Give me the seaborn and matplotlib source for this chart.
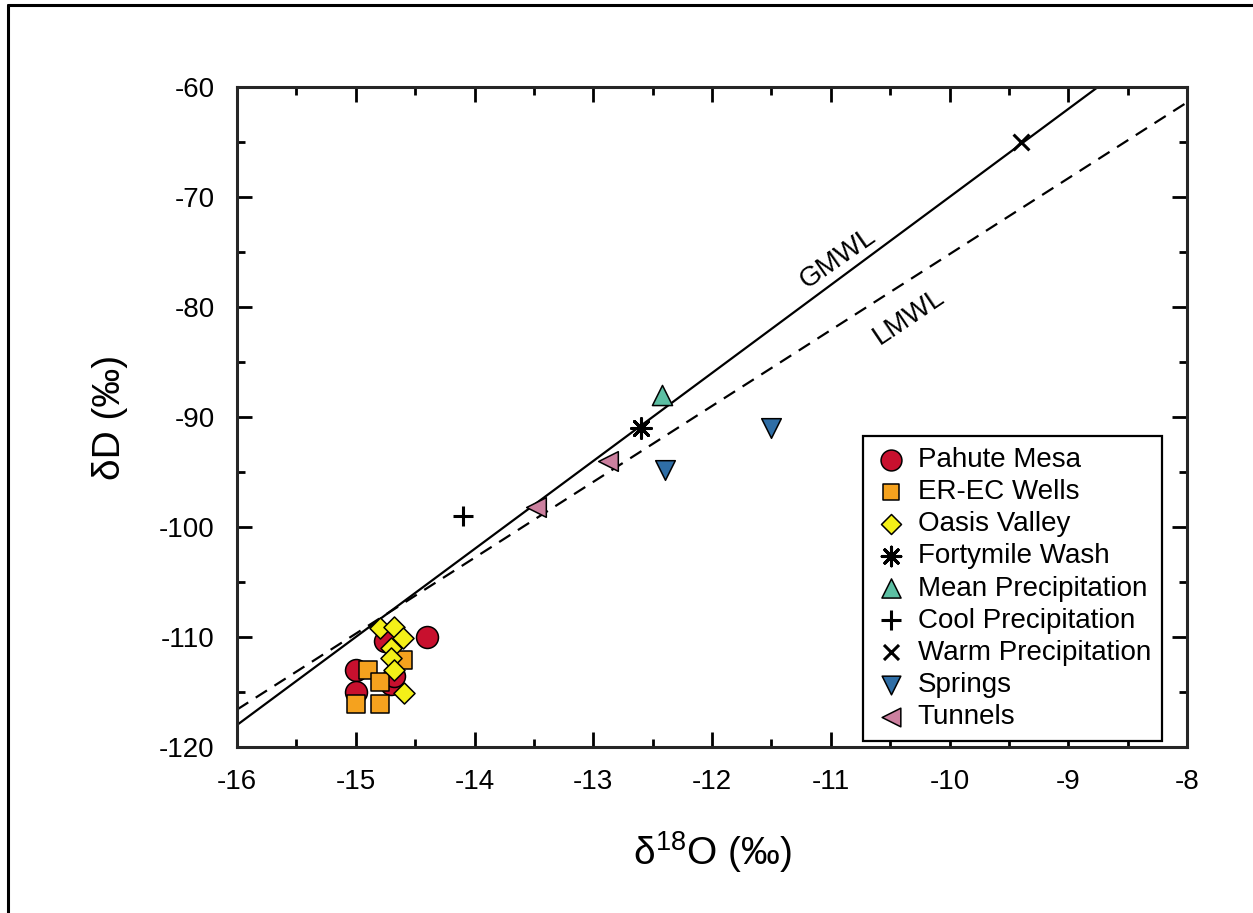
import matplotlib
matplotlib.use("Agg")
import matplotlib.pyplot as plt
from matplotlib.lines import Line2D
from matplotlib.ticker import MultipleLocator
import seaborn as sns
import numpy as np
import pandas as pd

# data (delta 18O, delta D in permil)
groups = ["Pahute Mesa", "ER-EC Wells", "Oasis Valley", "Fortymile Wash",
          "Mean Precipitation", "Cool Precipitation", "Warm Precipitation",
          "Springs", "Tunnels"]

pahute_o = [-14.4, -15.0, -15.0, -14.75, -14.7, -14.68]
pahute_d = [-110.0, -113.0, -115.0, -110.4, -114.3, -113.5]
erec_o = [-14.9, -14.8, -15.0, -14.8, -14.6]
erec_d = [-113.0, -114.1, -116.1, -116.1, -112.1]
oasis_o = [-14.8, -14.68, -14.6, -14.7, -14.7, -14.68, -14.59]
oasis_d = [-109.2, -109.1, -110.1, -111.0, -111.9, -113.0, -115.1]
forty_o = [-12.6]
forty_d = [-91.0]
meanp_o = [-12.42]
meanp_d = [-88.0]
coolp_o = [-14.1]
coolp_d = [-99.0]
warmp_o = [-9.4]
warmp_d = [-65.0]
springs_o = [-12.4, -11.5]
springs_d = [-94.8, -91.0]
tunnels_o = [-13.48, -12.88]
tunnels_d = [-98.2, -94.0]

gmwl_slope, gmwl_int = 8.0, 10.0
lmwl_slope, lmwl_int = 6.9, -6.2

x_ticks = list(range(-16, -7))
y_ticks = list(range(-120, -59, 10))

styles = {
    "Pahute Mesa":        dict(marker="o", color="#c8102e", s=250),
    "ER-EC Wells":        dict(marker="s", color="#f5a21e", s=160),
    "Oasis Valley":       dict(marker="D", color="#f4f018", s=115),
    "Fortymile Wash":     dict(marker=(8, 2, 0), color="black", s=200),
    "Mean Precipitation": dict(marker="^", color="#5cbfa3", s=210),
    "Cool Precipitation": dict(marker="+", color="black", s=220),
    "Warm Precipitation": dict(marker="x", color="black", s=130),
    "Springs":            dict(marker="v", color="#2f6ea6", s=200),
    "Tunnels":            dict(marker="<", color="#cc809f", s=200),
}

xs = [pahute_o, erec_o, oasis_o, forty_o, meanp_o, coolp_o, warmp_o, springs_o, tunnels_o]
ys = [pahute_d, erec_d, oasis_d, forty_d, meanp_d, coolp_d, warmp_d, springs_d, tunnels_d]
df = pd.concat([pd.DataFrame({"group": g, "d18O": x, "dD": y})
                for g, x, y in zip(groups, xs, ys)], ignore_index=True)

sns.set_style("ticks")
plt.rcParams["font.family"] = ["Liberation Sans", "DejaVu Sans"]
plt.rcParams["axes.unicode_minus"] = False
for k in ("text.color", "axes.labelcolor", "xtick.color", "ytick.color"):
    plt.rcParams[k] = "black"

fig = plt.figure(figsize=(12.53, 9.13), dpi=100)
ax = fig.add_axes([237 / 1253, 1 - 747 / 913, 950 / 1253, 660 / 913])

# meteoric water lines
xl = np.array([-16.0, -8.0])
ax.plot(xl, gmwl_slope * xl + gmwl_int, color="black", lw=1.6, zorder=1)
ax.plot(xl, lmwl_slope * xl + lmwl_int, color="black", lw=1.6,
        dashes=(6, 4), zorder=1)

for g in groups:
    st = styles[g]
    sub = df[df["group"] == g]
    filled = st["marker"] not in ("+", "x", (8, 2, 0))
    sns.scatterplot(data=sub, x="d18O", y="dD", ax=ax, label=g,
                    marker=st["marker"], s=st["s"], color=st["color"],
                    edgecolor="black", linewidth=1.1 if filled else 2.2,
                    zorder=3)

ax.text(-10.94, -75.6, "GMWL", rotation=35, fontsize=20,
        ha="center", va="center")
ax.text(-10.34, -80.9, "LMWL", rotation=34, fontsize=20,
        ha="center", va="center")

ax.set_xlim(-16, -8)
ax.set_ylim(-120, -60)
ax.set_xticks(x_ticks)
ax.set_yticks(y_ticks)
ax.xaxis.set_minor_locator(MultipleLocator(0.5))
ax.yaxis.set_minor_locator(MultipleLocator(5))
ax.tick_params(which="both", direction="in", top=True, right=True,
               width=2, labelsize=20, pad=16)
ax.tick_params(which="major", length=11)
ax.tick_params(which="minor", length=6)
for sp in ax.spines.values():
    sp.set_linewidth(2.2)
    sp.set_visible(True)

ax.set_xlabel(r"$\mathregular{\delta^{18}}$O (‰)", fontsize=28)
ax.set_ylabel("δD (‰)", fontsize=28)
ax.xaxis.set_label_coords(0.5, -0.125)
ax.yaxis.set_label_coords(-0.115, 0.5)

leg = ax.legend(loc="lower right", bbox_to_anchor=(0.9737, 0.009),
                borderaxespad=0, fontsize=20, labelspacing=0.22,
                handletextpad=0.35, handlelength=1.2, borderpad=0.4,
                fancybox=False, framealpha=1, edgecolor="black",
                markerscale=0.95)
leg.get_frame().set_linewidth(1.6)

# outer frame of the original figure (left and top edges visible)
fig.add_artist(Line2D([8 / 1253, 8 / 1253], [-0.01, 1 - 5 / 913],
                      color="black", lw=2.2, transform=fig.transFigure))
fig.add_artist(Line2D([8 / 1253, 1.01], [1 - 5 / 913, 1 - 5 / 913],
                      color="black", lw=2.2, transform=fig.transFigure))

fig.savefig("out.png", dpi=100)
